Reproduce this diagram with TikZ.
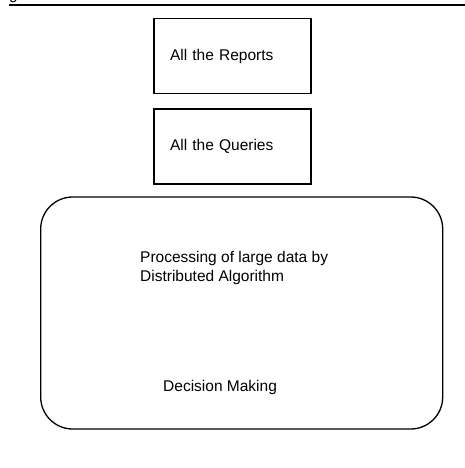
\documentclass[tikz,border=0pt]{standalone}
\usepackage{fontspec}
\setmainfont{Liberation Sans}

\begin{document}
\begin{tikzpicture}[x=1pt,y=-1pt,
    every node/.style={font=\fontsize{15.5}{19}\selectfont},
    plainbox/.style={draw,line width=1.3pt,minimum width=157pt,minimum height=75pt,
      text width=125pt,inner xsep=16pt,align=left}]
    \useasboundingbox (0,0) rectangle (465,468);
    % cut-off heading above the picture
    \node[anchor=south west,inner sep=0pt] (heading) at (9,3) {g};
    \coordinate (rule l) at (9,5.5);
    \coordinate (rule r) at (465,5.5);
    \draw[line width=2pt] (rule l) -- (rule r);
    \node[plainbox] (reports) at (232.5,56) {All the Reports};
    \node[plainbox] (queries) at (232.5,146.5) {All the Queries};
    \node[draw,line width=1.3pt,rounded corners=32pt,minimum width=402pt,
      minimum height=232pt] (process) at (241.7,313) {};
    \node[anchor=west,align=left,inner sep=0pt] (algo) at (140,267.5)
      {Processing of large data by\\Distributed Algorithm};
    \node[anchor=west,inner sep=0pt] (decision) at (163,387) {Decision Making};
  \end{tikzpicture}
\end{document}
